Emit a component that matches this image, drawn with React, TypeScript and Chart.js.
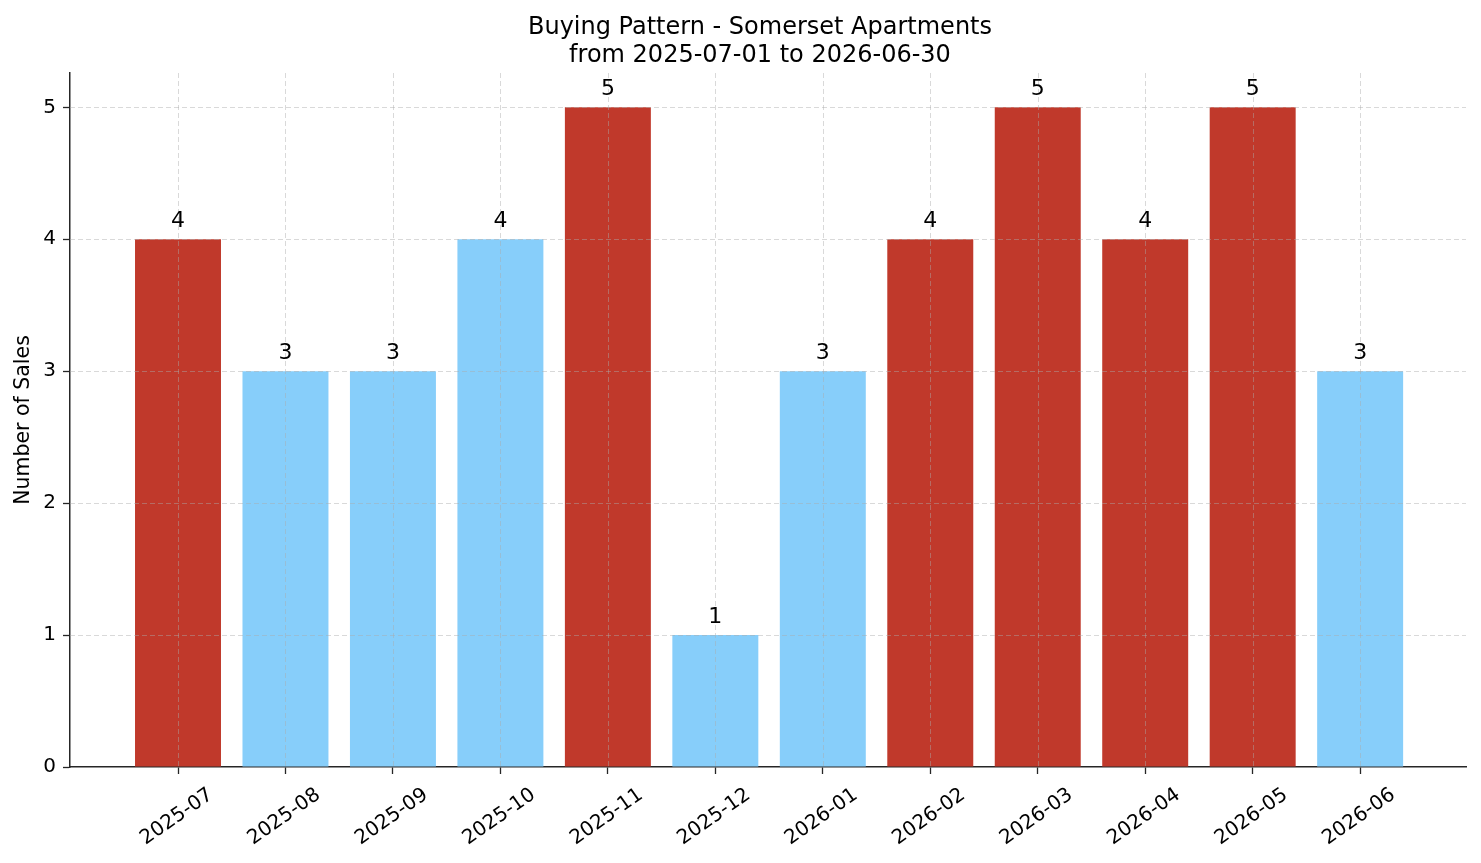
import React, { useEffect, useRef } from 'react';
import { Chart, registerables } from 'chart.js';

Chart.register(...registerables);

const months = [
  '2025-07', '2025-08', '2025-09', '2025-10', '2025-11', '2025-12',
  '2026-01', '2026-02', '2026-03', '2026-04', '2026-05', '2026-06',
];
const sales = [4, 3, 3, 4, 5, 1, 3, 4, 5, 4, 5, 3];
const highlighted = [true, false, false, false, true, false, false, true, true, true, true, false];
const yTicks = [0, 1, 2, 3, 4, 5];
const titleLines = ['Buying Pattern - Somerset Apartments', 'from 2025-07-01 to 2026-06-30'];
const yAxisLabel = 'Number of Sales';

const RED = '#C0392B';
const BLUE = '#87CEFA';
const FONT = '"DejaVu Sans", "Liberation Sans", sans-serif';
const AXIS = '#262626';

const overlayPlugin = {
  id: 'overlay',
  afterDatasetsDraw(chart: any) {
    const { ctx, chartArea, scales } = chart;
    const x = scales.x;
    const y = scales.y;
    // dashed grid drawn over the bars
    ctx.save();
    ctx.beginPath();
    ctx.rect(chartArea.left, chartArea.top, chartArea.right - chartArea.left, chartArea.bottom - chartArea.top);
    ctx.clip();
    ctx.strokeStyle = 'rgba(170,170,170,0.5)';
    ctx.lineWidth = 0.9;
    ctx.setLineDash([5, 3]);
    months.forEach((_, i) => {
      const px = Math.round(x.getPixelForValue(i)) + 0.5;
      ctx.beginPath();
      ctx.moveTo(px, chartArea.top);
      ctx.lineTo(px, chartArea.bottom);
      ctx.stroke();
    });
    yTicks.forEach((v) => {
      if (v === 0) return;
      const py = Math.round(y.getPixelForValue(v)) + 0.5;
      ctx.beginPath();
      ctx.moveTo(chartArea.left, py);
      ctx.lineTo(chartArea.right, py);
      ctx.stroke();
    });
    ctx.restore();

    // value labels
    ctx.save();
    ctx.fillStyle = '#000';
    ctx.font = `22px ${FONT}`;
    ctx.textAlign = 'center';
    ctx.textBaseline = 'alphabetic';
    const meta = chart.getDatasetMeta(0);
    meta.data.forEach((el: any, i: number) => {
      ctx.fillText(String(sales[i]), el.x, el.y - 12);
    });
    ctx.restore();
  },
  afterDraw(chart: any) {
    const { ctx, chartArea } = chart;
    ctx.save();
    ctx.fillStyle = '#000';
    ctx.font = `24px ${FONT}`;
    ctx.textAlign = 'center';
    ctx.textBaseline = 'middle';
    const cx = (chartArea.left + chartArea.right) / 2 - 8;
    titleLines.forEach((line, i) => {
      ctx.fillText(line, cx, 27.5 + i * 28.5);
    });
    ctx.restore();
  },
};

export default function App() {
  const canvasRef = useRef<HTMLCanvasElement | null>(null);

  useEffect(() => {
    document.body.style.margin = '0';
    const canvas = canvasRef.current;
    if (!canvas) return;
    const chart = new Chart(canvas, {
      type: 'bar',
      data: {
        datasets: [
          {
            data: sales.map((v, i) => ({ x: i, y: v })),
            backgroundColor: highlighted.map((h) => (h ? RED : BLUE)),
            borderWidth: 0,
            barPercentage: 0.8,
            categoryPercentage: 1.0,
          } as any,
        ],
      },
      options: {
        animation: false,
        responsive: false,
        devicePixelRatio: 1,
        layout: { padding: { top: 73, right: 15, left: 0, bottom: 0 } },
        plugins: {
          legend: { display: false },
          title: { display: false },
          tooltip: { enabled: false },
        },
        scales: {
          x: {
            type: 'linear',
            min: -1.005,
            max: 11.985,
            offset: false,
            afterBuildTicks: (s: any) => {
              s.ticks = months.map((_, i) => ({ value: i }));
            },
            afterFit: (s: any) => {
              s.height = 96;
            },
            ticks: {
              callback: (v: any) => months[Math.round(Number(v))] ?? '',
              minRotation: 35,
              maxRotation: 35,
              labelOffset: 33,
              padding: 9,
              autoSkip: false,
              color: '#000',
              font: { family: FONT, size: 20 },
            },
            grid: {
              offset: false,
              drawOnChartArea: false,
              drawTicks: true,
              tickLength: 7,
              tickColor: AXIS,
              tickWidth: 1.3,
            },
            border: { display: true, color: AXIS, width: 1.5 },
          },
          y: {
            type: 'linear',
            min: 0,
            max: 5.26,
            afterBuildTicks: (s: any) => {
              s.ticks = yTicks.map((v) => ({ value: v }));
            },
            afterFit: (s: any) => {
              s.width = 70;
            },
            ticks: {
              callback: (v: any) => String(v),
              padding: 7,
              color: '#000',
              font: { family: FONT, size: 20 },
            },
            title: {
              display: true,
              text: yAxisLabel,
              color: '#000',
              font: { family: FONT, size: 20.5 },
              padding: { top: 11, bottom: 0 },
            },
            grid: {
              drawOnChartArea: false,
              drawTicks: true,
              tickLength: 7,
              tickColor: AXIS,
              tickWidth: 1.3,
            },
            border: { display: true, color: AXIS, width: 1.5 },
          },
        },
      } as any,
      plugins: [overlayPlugin],
    });
    return () => chart.destroy();
  }, []);

  return (
    <div style={{ position: 'fixed', left: 0, top: 0, width: 1481, height: 863, background: '#fff' }}>
      <canvas ref={canvasRef} width={1481} height={863} style={{ width: 1481, height: 863, display: 'block' }} />
    </div>
  );
}
